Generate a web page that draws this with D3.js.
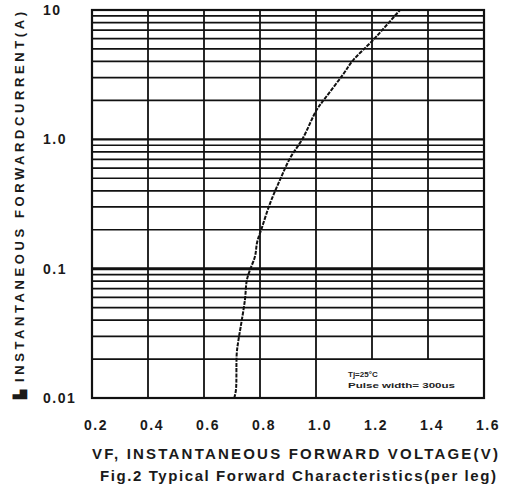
<!DOCTYPE html>
<html><head><meta charset="utf-8">
<script src="https://cdn.jsdelivr.net/npm/d3@7"></script>
<style>
html,body{margin:0;padding:0;background:#fff;}
svg{display:block;font-family:"Liberation Sans",Arial,sans-serif;}
</style></head>
<body><svg id="c" width="505" height="485"></svg>
<script>
// Data
const xTicks = [0.2, 0.4, 0.6, 0.8, 1.0, 1.2, 1.4, 1.6];
const xTickLabels = ["0.2","0.4","0.6","0.8","1.0","1.2","1.4","1.6"];
const yTicks = [10, 1, 0.1, 0.01];
const yTickLabels = ["10","1.0","0.1","0.01"];
const curveV = [0.708, 0.714, 0.717, 0.723, 0.731, 0.746, 0.753, 0.764, 0.782, 0.790, 0.806, 0.836, 0.871, 0.907, 0.953, 1.0025, 1.032, 1.095, 1.133, 1.204, 1.300];
const curveI = [0.01, 0.0115, 0.0222, 0.028, 0.0355, 0.057, 0.0816, 0.0975, 0.124, 0.161, 0.205, 0.32, 0.484, 0.713, 1.02, 1.69, 2.07, 3.14, 4.10, 5.86, 10];
const yTitle = "INSTANTANEOUS FORWARDCURRENT(A)";
const xTitle = "VF, INSTANTANEOUS FORWARD VOLTAGE(V)";
const figTitle = "Fig.2 Typical Forward Characteristics(per leg)";
const note1 = "Tj=25°C";
const note2 = "Pulse width= 300us";

const svg = d3.select("#c");
const L = 92, R = 484, T = 10, B = 398;
const x = d3.scaleLinear().domain([0.2, 1.6]).range([L, R]);
const y = d3.scaleLog().domain([0.01, 10]).range([B, T]);

const g = svg.append("g");
// minor horizontal grid
const minor = [];
[0.01, 0.1, 1].forEach(d => { for (let k = 2; k <= 9; k++) minor.push(k * d); });
g.selectAll("line.hm").data(minor).enter().append("line")
  .attr("x1", L).attr("x2", R)
  .attr("y1", d => y(d)).attr("y2", d => y(d))
  .attr("stroke", "#111").attr("stroke-width", 1.7);
// decade lines
g.selectAll("line.hd").data([1, 0.1]).enter().append("line")
  .attr("x1", L).attr("x2", R)
  .attr("y1", d => y(d)).attr("y2", d => y(d))
  .attr("stroke", "#111").attr("stroke-width", d => d === 0.1 ? 3 : 2.2);
// vertical grid (1.2, 1.4 stop above the note box)
g.selectAll("line.v").data(xTicks.slice(1, -1)).enter().append("line")
  .attr("x1", d => x(d)).attr("x2", d => x(d))
  .attr("y1", T).attr("y2", d => d > 1.1 ? y(0.02) : B)
  .attr("stroke", "#111").attr("stroke-width", 1.8);
// frame
g.append("rect").attr("x", L).attr("y", T).attr("width", R - L).attr("height", B - T)
  .attr("fill", "none").attr("stroke", "#111").attr("stroke-width", 2.2);

// curve
const pts = curveV.map((v, i) => [x(v), y(curveI[i])]);
g.append("path").attr("d", d3.line().curve(d3.curveCatmullRom)(pts))
  .attr("fill", "none").attr("stroke", "#111").attr("stroke-width", 2)
  .attr("stroke-dasharray", "4,1.2");

// y tick labels
svg.selectAll("text.yt").data(yTicks).enter().append("text")
  .attr("x", 43).attr("y", d => y(d) + 5)
  .attr("font-size", 14).attr("font-weight", "bold").attr("fill", "#1a1a1a")
  .attr("letter-spacing", 1.5)
  .text((d, i) => yTickLabels[i]);
// x tick labels
svg.selectAll("text.xt").data(xTicks).enter().append("text")
  .attr("x", d => x(d) + 4).attr("y", 430)
  .attr("text-anchor", "middle")
  .attr("font-size", 14).attr("font-weight", "bold").attr("fill", "#1a1a1a")
  .attr("letter-spacing", 1.5)
  .text((d, i) => xTickLabels[i]);

// y title
const yt = svg.append("g").attr("transform", "translate(24,399) rotate(-90)");
yt.append("text").attr("x", 0).attr("y", 0)
  .attr("font-size", 12).attr("font-weight", "bold").attr("fill", "#1a1a1a")
  .text("▙");
yt.append("text").attr("x", 17).attr("y", 0)
  .attr("font-size", 13).attr("font-weight", "bold").attr("fill", "#1a1a1a")
  .attr("textLength", 370).attr("lengthAdjust", "spacing")
  .text(yTitle);

// x titles
svg.append("text").attr("x", 92).attr("y", 459)
  .attr("font-size", 15).attr("font-weight", "bold").attr("fill", "#1a1a1a")
  .attr("textLength", 406).attr("lengthAdjust", "spacing")
  .text(xTitle);
svg.append("text").attr("x", 100).attr("y", 481)
  .attr("font-size", 15).attr("font-weight", "bold").attr("fill", "#1a1a1a")
  .attr("textLength", 396).attr("lengthAdjust", "spacing")
  .text(figTitle);

// note
svg.append("text").attr("x", 348).attr("y", 377)
  .attr("font-size", 8).attr("font-weight", "bold").attr("fill", "#222")
  .text(note1);
svg.append("text").attr("x", 348).attr("y", 388)
  .attr("font-size", 8).attr("font-weight", "bold").attr("fill", "#222")
  .attr("textLength", 107).attr("lengthAdjust", "spacingAndGlyphs")
  .text(note2);
</script></body></html>
